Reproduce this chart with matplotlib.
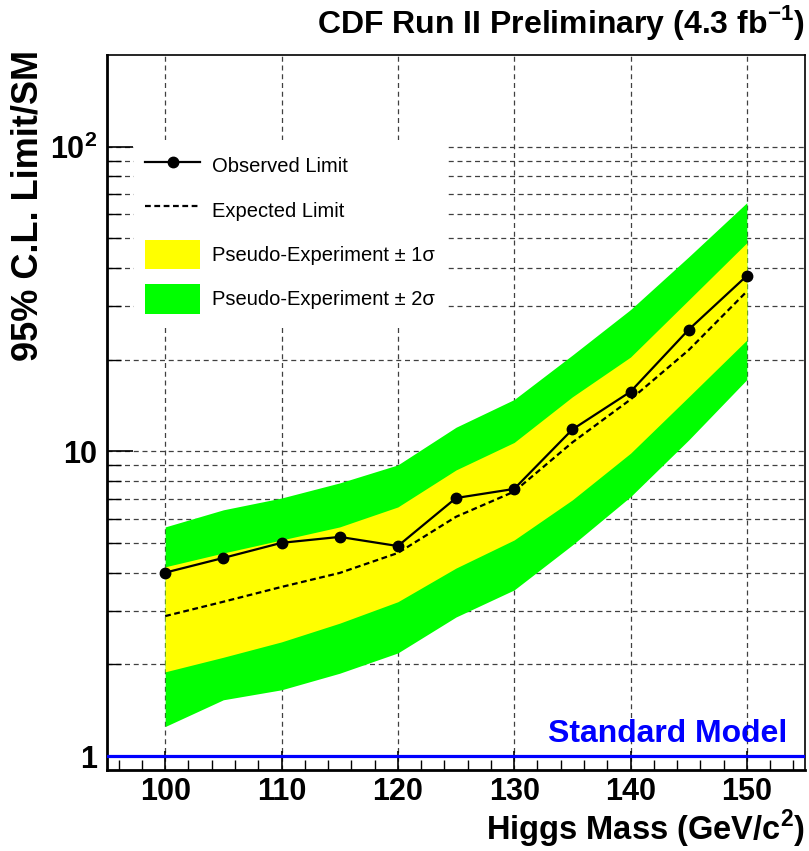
import matplotlib
matplotlib.use("Agg")
import matplotlib.pyplot as plt
from matplotlib.ticker import FixedLocator, FixedFormatter, MultipleLocator, NullFormatter
from matplotlib.lines import Line2D
from matplotlib.patches import Patch

plt.rcParams['font.family'] = ['Liberation Sans', 'DejaVu Sans']
plt.rcParams['mathtext.fontset'] = 'custom'
plt.rcParams['mathtext.rm'] = 'Liberation Sans'
plt.rcParams['mathtext.bf'] = 'Liberation Sans:bold'

# ---- data ----
mass = [100, 105, 110, 115, 120, 125, 130, 135, 140, 145, 150]
observed = [4.0, 4.47, 5.01, 5.24, 4.89, 7.03, 7.53, 11.8, 15.7, 25.1, 37.7]
expected = [2.88, 3.21, 3.59, 3.99, 4.64, 6.1, 7.38, 10.7, 14.8, 21.5, 33.5]
plus1 = [4.18, 4.64, 5.12, 5.65, 6.57, 8.69, 10.7, 15.1, 20.4, 31.4, 48.4]
minus1 = [1.89, 2.11, 2.37, 2.73, 3.21, 4.14, 5.12, 6.93, 9.86, 15.1, 23.2]
plus2 = [5.65, 6.43, 7.03, 7.88, 9.03, 12.0, 14.8, 20.7, 29.2, 43.5, 65.5]
minus2 = [1.25, 1.53, 1.65, 1.87, 2.18, 2.86, 3.51, 4.93, 7.1, 10.9, 17.2]
sm_level = 1.0

x_ticks = [100, 110, 120, 130, 140, 150]
x_tick_labels = ['100', '110', '120', '130', '140', '150']
y_ticks = [1, 10, 100]
y_tick_labels = ['1', '10', r'$\mathbf{10^2}$']

legend_labels = ['Observed Limit', 'Expected Limit',
                 'Pseudo-Experiment \u00b1 1\u03c3', 'Pseudo-Experiment \u00b1 2\u03c3']

W, H = 809, 851
fig = plt.figure(figsize=(W / 100, H / 100), dpi=100)
ax = fig.add_axes([107 / W, 1 - 770 / H, (805 - 107) / W, (770 - 55) / H])

ax.set_yscale('log')
ax.set_xlim(95, 155)
ax.set_ylim(0.9, 200)

# bands
ax.fill_between(mass, minus2, plus2, color='#00ff00', lw=0, zorder=2)
ax.fill_between(mass, minus1, plus1, color='#ffff00', lw=0, zorder=2.1)

# lines
ax.plot(mass, expected, color='black', lw=1.6, linestyle=(0, (2.6, 1.6)), zorder=3)
ax.plot(mass, observed, color='black', lw=1.6, marker='o', ms=7.5, zorder=4)

ax.axhline(sm_level, color='#0000ff', lw=2.3, zorder=4)
ax.text(0.974, 0.039, 'Standard Model', transform=ax.transAxes, ha='right',
        va='baseline', color='#0000ff', fontsize=23, fontweight='bold')

# ticks
ax.xaxis.set_major_locator(FixedLocator(x_ticks))
ax.xaxis.set_major_formatter(FixedFormatter(x_tick_labels))
ax.xaxis.set_minor_locator(MultipleLocator(2))
ax.yaxis.set_major_locator(FixedLocator(y_ticks))
ax.yaxis.set_major_formatter(FixedFormatter(y_tick_labels))
minor_y = [m * d for d in (1, 10) for m in range(2, 10)]
ax.yaxis.set_minor_locator(FixedLocator(minor_y))
ax.yaxis.set_minor_formatter(NullFormatter())

ax.tick_params(axis='both', which='both', direction='in', top=False, right=False)
ax.tick_params(axis='x', which='major', length=14, width=1.2, pad=5)
ax.tick_params(axis='x', which='minor', length=7, width=1.0)
ax.tick_params(axis='y', which='major', length=19, width=1.2, pad=7)
ax.tick_params(axis='y', which='minor', length=10, width=1.0)
for lab in ax.get_xticklabels() + ax.get_yticklabels():
    lab.set_fontsize(22)
    lab.set_fontweight('bold')

# grid
ax.grid(axis='x', which='major', color='0.25', lw=0.9, linestyle=(0, (4, 3)), zorder=1)
ax.grid(axis='y', which='both', color='0.25', lw=0.9, linestyle=(0, (4, 3)), zorder=1)
ax.set_axisbelow(True)

for s in ['left', 'bottom']:
    ax.spines[s].set_linewidth(2.0)
for s in ['top', 'right']:
    ax.spines[s].set_linewidth(1.2)

# legend
handles = [
    Line2D([], [], color='black', lw=1.6, marker='o', ms=7.5),
    Line2D([], [], color='black', lw=1.6, linestyle=(0, (2.6, 1.6))),
    Patch(facecolor='#ffff00', edgecolor='none'),
    Patch(facecolor='#00ff00', edgecolor='none'),
]
leg = ax.legend(handles, legend_labels, loc='upper left',
                bbox_to_anchor=((134 - 107) / 698, (770 - 140) / 715),
                borderaxespad=0, borderpad=0.55, fontsize=14.5,
                handlelength=2.75, handleheight=1.9, labelspacing=0.72,
                handletextpad=0.55, numpoints=1, frameon=True, fancybox=False)
leg.get_frame().set_facecolor('white')
leg.get_frame().set_edgecolor('none')
leg.get_frame().set_alpha(1)

# titles / labels
fig.text(805 / W, 1 - 33 / H, r'CDF Run II Preliminary (4.3 fb$^{\mathbf{-1}}$)',
         ha='right', va='baseline', fontsize=23, fontweight='bold')
fig.text(805 / W, 1 - 840 / H, r'Higgs Mass (GeV/c$^{\mathbf{2}}$)',
         ha='right', va='baseline', fontsize=23.5, fontweight='bold')
fig.text(28 / W, 1 - 50 / H, '95% C.L. Limit/SM', rotation=90,
         ha='center', va='top', fontsize=26, fontweight='bold')

fig.savefig('out.png', dpi=100)
